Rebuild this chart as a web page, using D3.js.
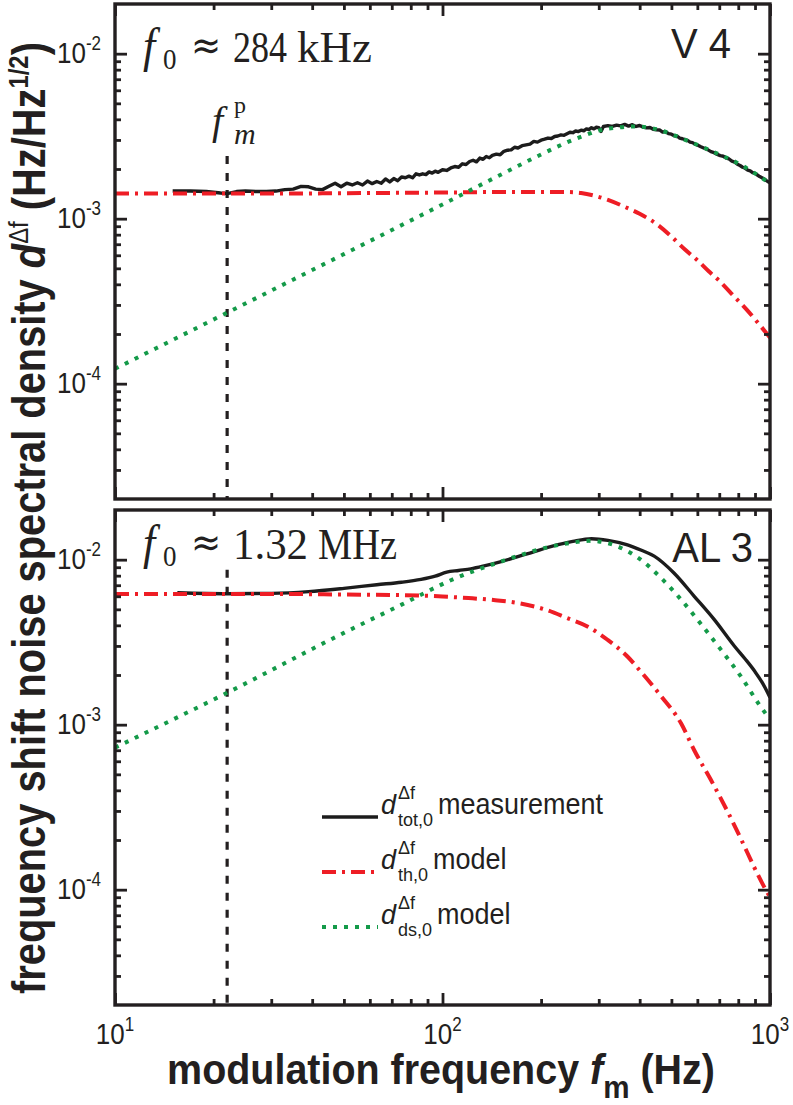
<!DOCTYPE html>
<html>
<head>
<meta charset="utf-8">
<script src="https://cdn.jsdelivr.net/npm/d3@7/dist/d3.min.js"></script>
<style>
html,body{margin:0;padding:0;background:#fff;}
svg{display:block;}
text{font-family:"Liberation Sans",Arial,Helvetica,sans-serif;fill:#231f20;}
</style>
</head>
<body>
<svg id="chart" width="793" height="1105"></svg>
<script>
// ================= DATA =================
const xTickExponents = [1, 2, 3];
const yTickExponents = [-2, -3, -4];
const fmPeak = 22;              // Hz, dashed f_m^p marker
const fmPeakTopFrom = 2.4e-3;   // marker upper end, top panel
const fmPeakBotFrom = 8.7e-3;   // marker upper end, bottom panel

const topF0Num = "284", topF0Unit = "kHz", topName = "V 4";
const botF0Num = "1.32", botF0Unit = "MHz", botName = "AL 3";

// values below are in units of 1e-3 Hz/Hz^(1/2)
// --- top panel (V 4) ---
const topMeasF = [15,17,19,21,22,23.5,25,27,29,31,33,35,37,39,41,43,45,47,49,51,53,55,57,59,61,63,65,67,69,71,73,75,77,79,81,83,85,87,89,91,93,95,97,100,103,106,109,112,115,118,121,124,127,130,133,136,139,142,146,150,154,158,162,166,170,175,180,185,190,195,200,205,210,215,220,225,230,235,240,245,250,255,260,265,270,275,280,285,290,295,300,305,310,320,330,340,350,360,370,380,390,400,410,420,430,440,450,460,470,480,490,500,510,520,530,540,550,560,570,580,590,600,615,630,645,660,675,690,705,720,735,750,765,780,795,810,825,840,855,870,885,900,915,930,945,960,975,990,1000];
const topMeasD = [1.47,1.47,1.46,1.43,1.42,1.46,1.47,1.46,1.46,1.47,1.50,1.51,1.57,1.56,1.51,1.50,1.57,1.64,1.56,1.64,1.60,1.65,1.60,1.69,1.63,1.68,1.64,1.74,1.67,1.75,1.70,1.79,1.77,1.81,1.77,1.87,1.84,1.87,1.85,1.92,1.89,1.94,1.91,1.98,1.96,2.03,2.07,2.05,2.15,2.13,2.22,2.26,2.21,2.33,2.29,2.38,2.34,2.42,2.46,2.44,2.56,2.60,2.61,2.71,2.68,2.77,2.80,2.83,2.94,2.91,2.99,3.03,3.08,3.06,3.15,3.17,3.22,3.20,3.27,3.34,3.32,3.40,3.37,3.44,3.41,3.50,3.47,3.56,3.50,3.58,3.56,3.38,3.62,3.66,3.62,3.69,3.65,3.73,3.64,3.71,3.62,3.67,3.59,3.55,3.57,3.48,3.46,3.45,3.35,3.37,3.28,3.25,3.18,3.17,3.08,3.05,3.01,2.98,2.91,2.89,2.83,2.80,2.73,2.67,2.62,2.55,2.51,2.45,2.41,2.39,2.33,2.30,2.23,2.20,2.14,2.10,2.05,2.02,1.97,1.95,1.90,1.88,1.84,1.80,1.77,1.74,1.70,1.67,1.65];
const topThF = [10,30,60,100,150,200,240,265,290,320,360,400,450,500,550,600,650,700,775,850,925,1000];
const topThD = [1.42,1.42,1.43,1.44,1.45,1.45,1.45,1.43,1.38,1.30,1.18,1.07,0.93,0.78,0.65,0.56,0.48,0.42,0.34,0.28,0.23,0.19];
const topDsF = [10,50,100,150,200,240,270,300,340,380,420,470,530,600,700,815,900,1000];
const topDsD = [0.123,0.61,1.22,1.84,2.45,2.90,3.18,3.42,3.56,3.62,3.58,3.40,3.10,2.80,2.45,2.12,1.88,1.63];

// --- bottom panel (AL 3) ---
const botMeasF = [15.5,22,30,39,50,63,75,86,95,103,112,122,135,150,180,214,250,285,320,367,405,443,509,587,676,778,840,896,950,1000];
const botMeasD = [6.30,6.22,6.25,6.40,6.70,7.05,7.30,7.60,7.95,8.40,8.60,8.80,9.20,9.70,10.8,12.0,12.9,13.4,13.1,12.3,11.4,10.5,8.3,6.0,4.33,3.00,2.50,2.12,1.78,1.46];
const botThF = [10,30,50,75,100,120,145,169,205,240,277,319,367,403,465,535,587,661,745,820,893,950,1000];
const botThD = [6.20,6.20,6.15,6.10,5.98,5.85,5.68,5.47,5.00,4.43,3.94,3.27,2.59,2.10,1.49,1.02,0.70,0.46,0.293,0.198,0.138,0.108,0.090];
const botDsF = [10,22,50,75,106,150,214,250,280,300,350,403,465,535,612,708,815,935,1000];
const botDsD = [0.726,1.56,3.6,5.34,7.5,9.7,12.0,12.7,13.0,12.9,11.8,10.0,7.74,5.73,4.13,2.85,1.96,1.29,1.08];

const legendSubs = ["tot,0", "th,0", "ds,0"];
const legendWords = ["measurement", "model", "model"];
const UNIT = 1e-3;

// ================= LAYOUT =================
const svg = d3.select("#chart");
const X0 = 115, X1 = 770;
const ink = "#231f20";
const col = {meas: "#1c1c1c", th: "#ee1d25", ds: "#149a49"};
const dash = {th: "14,6,3,6", ds: "4,7", meas: null};
const x = d3.scaleLog().domain([10, 1000]).range([X0, X1]);
const yDom = [2e-5, 2e-2];
const serif = "'Liberation Serif','DejaVu Serif',serif";

function minorVals(lo, hi) {
  const out = [];
  for (let e = Math.floor(Math.log10(lo)); e <= Math.ceil(Math.log10(hi)); e++)
    for (let m = 2; m <= 9; m++) { const v = m * Math.pow(10, e); if (v > lo * 1.0001 && v < hi * 0.9999) out.push(v); }
  return out;
}
const xMajor = xTickExponents.map(e => Math.pow(10, e));
const yMajor = yTickExponents.map(e => Math.pow(10, e));
const xMinor = minorVals(10, 1000);
const yMinor = minorVals(yDom[0], yDom[1]);

const zip = (f, d) => f.map((v, i) => [v, d[i] * UNIT]);

function tickLabel(parent, tx, ty, anchor, exp) {
  const t = parent.append("text").attr("x", 0).attr("y", 0)
    .attr("transform", `translate(${tx},${ty}) scale(1,1.15)`)
    .attr("text-anchor", anchor).attr("font-size", 26);
  t.append("tspan").text("10");
  t.append("tspan").attr("dy", -11).attr("font-size", 17).text(String(exp));
  return t;
}

function drawPanel(idx, top, bottom, s, opts) {
  const y = d3.scaleLog().domain(yDom).range([bottom, top]);
  const g = svg.append("g");
  const cid = "clip" + idx;
  svg.append("clipPath").attr("id", cid).append("rect")
    .attr("x", X0).attr("y", top).attr("width", X1 - X0).attr("height", bottom - top);
  const plot = g.append("g").attr("clip-path", `url(#${cid})`);

  // dashed f_m^p marker
  plot.append("line")
    .attr("x1", x(fmPeak)).attr("x2", x(fmPeak))
    .attr("y1", y(opts.dashFrom)).attr("y2", y(yDom[0]))
    .attr("stroke", ink).attr("stroke-width", 3.2).attr("stroke-dasharray", "8,9");

  const line = d3.line().x(d => x(d[0])).y(d => y(d[1]));
  const smooth = d3.line().x(d => x(d[0])).y(d => y(d[1])).curve(d3.curveMonotoneX);

  plot.append("path").datum(s.meas).attr("d", opts.measSmooth ? smooth : line)
    .attr("fill", "none").attr("stroke", col.meas).attr("stroke-width", 3.4)
    .attr("stroke-linejoin", "round");
  plot.append("path").datum(s.th).attr("d", smooth)
    .attr("fill", "none").attr("stroke", col.th).attr("stroke-width", 4)
    .attr("stroke-dasharray", dash.th);
  plot.append("path").datum(s.ds).attr("d", smooth)
    .attr("fill", "none").attr("stroke", col.ds).attr("stroke-width", 4)
    .attr("stroke-dasharray", dash.ds);

  // axes (ticks inward on all four sides)
  const mk = (axis, tr, vals, size) => {
    const a = g.append("g").attr("transform", tr)
      .call(axis.tickValues(vals).tickSize(size).tickFormat(() => ""));
    a.select(".domain").remove();
    a.selectAll(".tick text").remove();
    a.selectAll(".tick line").attr("stroke", ink).attr("stroke-width", 2.8);
  };
  mk(d3.axisBottom(x), `translate(0,${bottom})`, xMajor, -12);
  mk(d3.axisBottom(x), `translate(0,${bottom})`, xMinor, -6);
  mk(d3.axisTop(x), `translate(0,${top})`, xMajor, -12);
  mk(d3.axisTop(x), `translate(0,${top})`, xMinor, -6);
  mk(d3.axisLeft(y), `translate(${X0},0)`, yMajor, -12);
  mk(d3.axisLeft(y), `translate(${X0},0)`, yMinor, -6);
  mk(d3.axisRight(y), `translate(${X1},0)`, yMajor, -12);
  mk(d3.axisRight(y), `translate(${X1},0)`, yMinor, -6);

  g.append("rect").attr("x", X0).attr("y", top).attr("width", X1 - X0).attr("height", bottom - top)
    .attr("fill", "none").attr("stroke", ink).attr("stroke-width", 3.4);

  // y tick labels
  yTickExponents.forEach(e => tickLabel(g, 101, y(Math.pow(10, e)) + 9, "end", e));

  // f0 label (serif)
  const ft = g.append("text").attr("transform", `translate(0,${opts.f0Base}) scale(1,1.12)`)
    .style("font-family", serif).attr("font-size", 40);
  ft.append("tspan").attr("x", 143).attr("y", 0).attr("font-size", 44).attr("font-style", "italic").text("f");
  ft.append("tspan").attr("x", 163).attr("y", 6).attr("font-size", 27).text("0");
  ft.append("tspan").attr("x", 191).attr("y", -3).style("font-family", "'DejaVu Sans',sans-serif").attr("font-size", 36).text("≈");
  ft.append("tspan").attr("x", 233).attr("y", 0).attr("textLength", opts.numLen).attr("lengthAdjust", "spacingAndGlyphs").text(opts.f0Num);
  ft.append("tspan").attr("x", opts.unitX).attr("y", 0).attr("textLength", opts.unitLen).attr("lengthAdjust", "spacingAndGlyphs").text(opts.f0Unit);

  // sample name
  g.append("text").attr("x", 0).attr("y", 0)
    .attr("transform", `translate(${opts.nameRight},${opts.nameBase}) scale(1,1.06)`)
    .attr("text-anchor", "end").attr("font-size", 40).text(opts.name);

  return {g, y};
}

drawPanel(0, 4, 499,
  {meas: zip(topMeasF, topMeasD), th: zip(topThF, topThD), ds: zip(topDsF, topDsD)},
  {dashFrom: fmPeakTopFrom, f0Base: 62, f0Num: topF0Num, f0Unit: topF0Unit, numLen: 54, unitX: 297, unitLen: 75,
   name: topName, nameRight: 731, nameBase: 58, measSmooth: false});
drawPanel(1, 510, 1005,
  {meas: zip(botMeasF, botMeasD), th: zip(botThF, botThD), ds: zip(botDsF, botDsD)},
  {dashFrom: fmPeakBotFrom, f0Base: 559, f0Num: botF0Num, f0Unit: botF0Unit, numLen: 75, unitX: 318, unitLen: 79,
   name: botName, nameRight: 753, nameBase: 562, measSmooth: true});

// f_m^p label
const fm = svg.append("text").style("font-family", serif);
fm.append("tspan").attr("x", 212).attr("y", 134).attr("font-size", 40).attr("font-style", "italic").text("f");
fm.append("tspan").attr("x", 234).attr("y", 144).attr("font-size", 30).attr("font-style", "italic").text("m");
fm.append("tspan").attr("x", 234).attr("y", 113).attr("font-size", 24).text("p");

// x tick labels (bottom panel only)
xTickExponents.forEach(e => tickLabel(svg, x(Math.pow(10, e)), 1044, "middle", e));

// legend
const legRows = [817, 872, 927];
const legKeys = ["meas", "th", "ds"];
legKeys.forEach((k, i) => {
  const yy = legRows[i];
  const ln = svg.append("line").attr("x1", 322).attr("x2", 378).attr("y1", yy).attr("y2", yy)
    .attr("stroke", col[k]).attr("stroke-width", k === "meas" ? 3.4 : 4);
  if (dash[k]) ln.attr("stroke-dasharray", dash[k]);
  svg.append("text").attr("x", 381).attr("y", yy - 3).attr("font-size", 27).attr("font-style", "italic").text("d");
  const sup = svg.append("text").attr("x", 398).attr("y", yy - 18).attr("font-size", 18).text("Δf");
  const sub = svg.append("text").attr("x", 398).attr("y", yy + 9).attr("font-size", 18).text(legendSubs[i]);
  const endX = 398 + Math.max(sup.node().getComputedTextLength(), sub.node().getComputedTextLength());
  svg.append("text").attr("x", 0).attr("y", 0)
    .attr("transform", `translate(${endX + 5},${yy - 3}) scale(1,1.08)`)
    .attr("font-size", 27).text(legendWords[i]);
});

// axis titles (fitted to the measured extent)
function fitText(sel, target) {
  const w = sel.node().getBBox().width;
  return target / w;
}
const yl = svg.append("text").attr("x", 0).attr("y", 0).attr("text-anchor", "middle")
  .attr("font-size", 40).attr("font-weight", "bold");
yl.append("tspan").text("frequency shift noise spectral density ");
yl.append("tspan").attr("font-style", "italic").text("d");
yl.append("tspan").attr("dy", -15).attr("font-size", 24).attr("font-weight", "normal").text("Δf");
yl.append("tspan").attr("dy", 15).text(" (Hz/Hz");
yl.append("tspan").attr("dy", -15).attr("font-size", 24).text("1/2");
yl.append("tspan").attr("dy", 15).text(")");
const sy = fitText(yl, 952);
yl.attr("transform", `translate(45,518) rotate(-90) scale(${sy},1.15)`);

const xl = svg.append("text").attr("x", 0).attr("y", 0).attr("text-anchor", "middle")
  .attr("font-size", 40).attr("font-weight", "bold");
xl.append("tspan").text("modulation frequency ");
xl.append("tspan").attr("font-style", "italic").text("f");
xl.append("tspan").attr("dy", 13).attr("font-size", 30).text("m");
xl.append("tspan").attr("dy", -13).text(" (Hz)");
const sx = fitText(xl, 548);
xl.attr("transform", `translate(441,1084) scale(${sx},1.04)`);
</script>
</body>
</html>
